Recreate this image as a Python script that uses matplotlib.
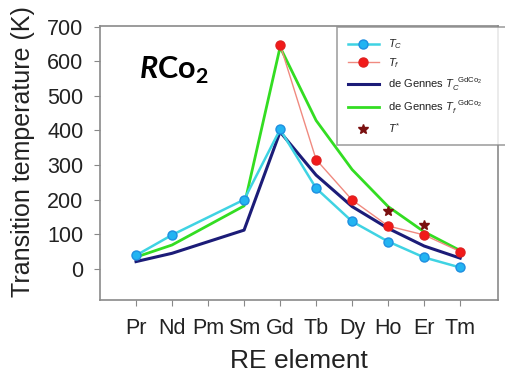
import matplotlib
matplotlib.use("Agg")
import matplotlib.pyplot as plt
import numpy as np

plt.rcParams['font.family'] = ['Liberation Sans', 'DejaVu Sans']
plt.rcParams['mathtext.fontset'] = 'custom'
plt.rcParams['mathtext.rm'] = 'Liberation Sans'
plt.rcParams['mathtext.it'] = 'Liberation Sans:italic'
plt.rcParams['mathtext.bf'] = 'Lato:bold'
plt.rcParams['mathtext.bfit'] = 'Lato:italic:bold'

elements = ["Pr", "Nd", "Pm", "Sm", "Gd", "Tb", "Dy", "Ho", "Er", "Tm"]

# Measured Curie temperature T_C (K)
tc_elements = ["Pr", "Nd", "Sm", "Gd", "Tb", "Dy", "Ho", "Er", "Tm"]
tc_values = [39, 98, 200, 403, 233, 137, 79, 33, 4]

# Measured T_f (K)
tf_elements = ["Gd", "Tb", "Dy", "Ho", "Er", "Tm"]
tf_values = [648, 316, 199, 124, 98, 50]

# de Gennes scaling from GdCo2
dg_tc_elements = ["Pr", "Nd", "Sm", "Gd", "Tb", "Dy", "Ho", "Er", "Tm"]
dg_tc_values = [21, 45, 112, 396, 271, 180, 117, 66, 31]
dg_tf_elements = ["Pr", "Nd", "Sm", "Gd", "Tb", "Dy", "Ho", "Er", "Tm"]
dg_tf_values = [34, 69, 182, 641, 429, 287, 180, 107, 53]

# T* points
tstar_elements = ["Ho", "Er"]
tstar_values = [168, 127]

y_ticks = [0, 100, 200, 300, 400, 500, 600, 700]

pos = {e: i for i, e in enumerate(elements)}
def xs(names):
    return [pos[n] for n in names]

fig = plt.figure(figsize=(5.06, 3.74), dpi=100)
ax = fig.add_axes([100/506, 1-300/374, 398/506, 274/374])

ax.plot(xs(dg_tf_elements), dg_tf_values, color='#33dd22', lw=2.0, zorder=2,
        label=r'de Gennes $T_f^{\ \ \mathrm{GdCo_2}}$')
ax.plot(xs(dg_tc_elements), dg_tc_values, color='#1c1c78', lw=2.2, zorder=2,
        label=r'de Gennes $T_C^{\ \ \mathrm{GdCo_2}}$')
ax.plot(xs(tc_elements), tc_values, color='#3fd3e3', lw=1.8, marker='o', ms=6.5,
        mfc='#22b4f2', mec='#1f8fe0', mew=1.0, zorder=3, label=r'$T_C$')
ax.plot(xs(tf_elements), tf_values, color='#f08a80', lw=1.0, marker='o', ms=6.5,
        mfc='#f21a1a', mec='#e02020', mew=1.0, zorder=3, label=r'$T_f$')
ax.plot(xs(tstar_elements), tstar_values, ls='none', marker='*', ms=7,
        color='#7a1010', zorder=4, label=r'$T^{*}$')

ax.set_xlim(-1, 10.05)
ax.set_ylim(-90, 702)
ax.set_xticks(range(len(elements)))
ax.set_xticklabels(elements)
ax.set_yticks(y_ticks)
ax.tick_params(axis='both', direction='out', length=4, width=0.8, color='#888888',
               labelsize=15.5, labelcolor='#222222')
ax.tick_params(axis='x', pad=9)
ax.tick_params(axis='y', pad=8)
for s in ax.spines.values():
    s.set_color('#8a8a8a')
    s.set_linewidth(1.2)

ax.set_xlabel('RE element', fontsize=19, color='#222222', va='center')
ax.xaxis.set_label_coords(0.5, -0.222)
ax.set_ylabel('Transition temperature (K)', fontsize=18, color='#222222', va='center')
ax.yaxis.set_label_coords(-0.193, 0.54)

fig.text(174/506, 1-70/374, r'$\mathbfit{R}\mathbf{Co}_{\mathbf{2}}$', fontsize=22,
         ha='center', va='center', color='black')

handles, labels = ax.get_legend_handles_labels()
order = [2, 3, 1, 0, 4]
leg = fig.legend([handles[i] for i in order], [labels[i] for i in order],
                 loc='upper left',
                 bbox_to_anchor=(337/506, 1-143/374, 190/506, 116/374),
                 bbox_transform=fig.transFigure, mode='expand',
                 fontsize=8, frameon=True, fancybox=False, edgecolor='#8a8a8a',
                 borderaxespad=0, handlelength=2.8, handletextpad=0.8,
                 labelspacing=0.45, borderpad=0.95)
leg.get_frame().set_linewidth(1.2)
for t in leg.get_texts():
    t.set_color('#222222')

fig.savefig('out.png', dpi=100)
